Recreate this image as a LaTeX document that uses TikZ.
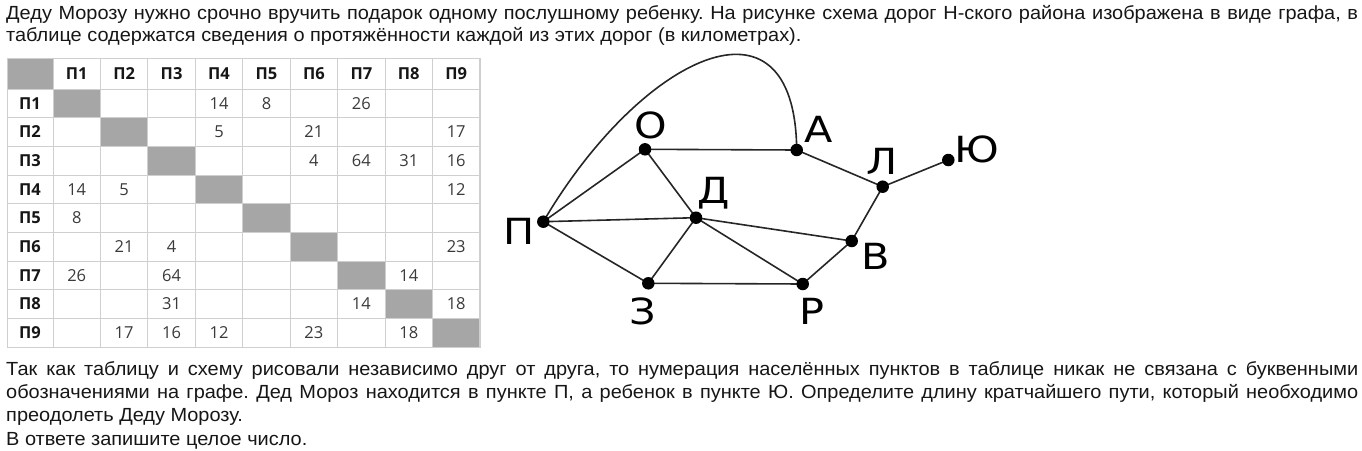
\documentclass[tikz,border=0pt]{standalone}
\usepackage{fontspec}
\setmainfont{Liberation Sans}
\newfontfamily\bodyfont[FakeStretch=1.05]{Liberation Sans}
\newfontfamily\tabfont{Open Sans}
\newfontfamily\lblfont[FakeStretch=1.15]{DejaVu Sans}
\definecolor{txt}{HTML}{161616}
\definecolor{cellgray}{HTML}{A6A6A6}
\definecolor{gridgray}{HTML}{CFCFCF}
\definecolor{numgray}{HTML}{3A3A3A}
\definecolor{edgecol}{HTML}{262626}
\newcommand{\jline}[1]{\hbox to 1352pt{#1}}
\frenchspacing
\tikzset{
  para/.style={anchor=base west, inner sep=0pt, text=txt, font=\bodyfont\fontsize{19}{22}\selectfont\frenchspacing},
  hdr/.style={inner sep=0pt, text=txt, font=\tabfont\bfseries\fontsize{16.5}{18}\selectfont},
  num/.style={inner sep=0pt, text=numgray, font=\tabfont\fontsize{16.5}{18}\selectfont},
  vtx/.style={circle, fill=black, inner sep=0pt, minimum size=12.5pt},
  lbl/.style={inner sep=0pt, text=black, font=\lblfont\fontsize{36}{40}\selectfont},
  road/.style={draw=edgecol, line width=1.6pt}
}
\begin{document}
\begin{tikzpicture}[x=1pt,y=-1pt]
\useasboundingbox (0,0) rectangle (1362,450);
% --- text ---
\node[para] (t1) at (6,19) {\jline{Деду Морозу нужно срочно вручить подарок одному послушному ребенку. На рисунке схема дорог Н-ского района изображена в виде графа, в}};
\node[para] (t2) at (6,41.7) {таблице содержатся сведения о протяжённости каждой из этих дорог (в километрах).};
\node[para] (b1) at (6,375) {\jline{Так как таблицу и схему рисовали независимо друг от друга, то нумерация населённых пунктов в таблице никак не связана с буквенными}};
\node[para] (b2) at (6,398.3) {\jline{обозначениями на графе. Дед Мороз находится в пункте П, а ребенок в пункте Ю. Определите длину кратчайшего пути, который необходимо}};
\node[para] (b3) at (6,421.7) {преодолеть Деду Морозу.};
\node[para] (b4) at (6,445) {В ответе запишите целое число.};
% --- table ---
\def\cw{47.44}
\def\rh{28.667}
\fill[cellgray] (7,58) rectangle (53,89);
\foreach \i in {1,...,9}{
  \fill[cellgray] ({53+(\i-1)*\cw},{89+(\i-1)*\rh}) rectangle ({53+\i*\cw},{89+\i*\rh});
}
\foreach \i in {0,...,9}{
  \draw[gridgray, line width=1pt] (7,{89+\i*\rh}) -- (480,{89+\i*\rh});
  \draw[gridgray, line width=1pt] ({53+\i*\cw},58) -- ({53+\i*\cw},347);
}
\draw[gridgray, line width=1pt] (7,58) rectangle (480,347);
\foreach \i in {1,...,9}{
  \node[hdr] (ch\i) at ({53+(\i-0.5)*\cw},73.5) {П\i};
  \node[hdr] (rh\i) at (30,{89+(\i-0.5)*\rh}) {П\i};
}
\foreach \r/\c/\v in {1/4/14,1/5/8,1/7/26,2/4/5,2/6/21,2/9/17,3/6/4,3/7/64,3/8/31,3/9/16,
  4/1/14,4/2/5,4/9/12,5/1/8,6/2/21,6/3/4,6/9/23,7/1/26,7/3/64,7/8/14,8/3/31,8/7/14,8/9/18,
  9/2/17,9/3/16,9/4/12,9/6/23,9/8/18}{
  \node[num] (v\r-\c) at ({53+(\c-0.5)*\cw},{89+(\r-0.5)*\rh}) {\v};
}
% --- graph ---
\coordinate (P) at (543.3,221.7);
\coordinate (O) at (645,149.3);
\coordinate (A) at (796.7,150);
\coordinate (L) at (882.7,186.7);
\coordinate (Yu) at (948.3,160);
\coordinate (D) at (696,217.7);
\coordinate (V) at (851.7,241);
\coordinate (Z) at (648.3,283.3);
\coordinate (R) at (802.7,284);
\draw[road] (P) -- (O);
\draw[road] (P) -- (D);
\draw[road] (P) -- (Z);
\draw[road] (P) .. controls (640,57) and (795,-20) .. (A);
\draw[road] (O) -- (A);
\draw[road] (O) -- (D);
\draw[road] (D) -- (Z);
\draw[road] (D) -- (R);
\draw[road] (D) -- (V);
\draw[road] (Z) -- (R);
\draw[road] (R) -- (V);
\draw[road] (V) -- (L);
\draw[road] (A) -- (L);
\draw[road] (L) -- (Yu);
\foreach \n in {P,O,A,L,Yu,D,V,Z,R}{ \node[vtx] (dot\n) at (\n) {}; }
\node[lbl] (lP) at (519,231) {П};
\node[lbl] (lO) at (650.5,125.5) {О};
\node[lbl] (lA) at (818.5,129) {А};
\node[lbl] (lL) at (881.7,161) {Л};
\node[lbl] (lYu) at (977,149) {Ю};
\node[lbl] (lD) at (714,192.7) {Д};
\node[lbl] (lV) at (876,256.5) {В};
\node[lbl] (lZ) at (643,311) {З};
\node[lbl] (lR) at (811.7,311.7) {Р};
\end{tikzpicture}
\end{document}
